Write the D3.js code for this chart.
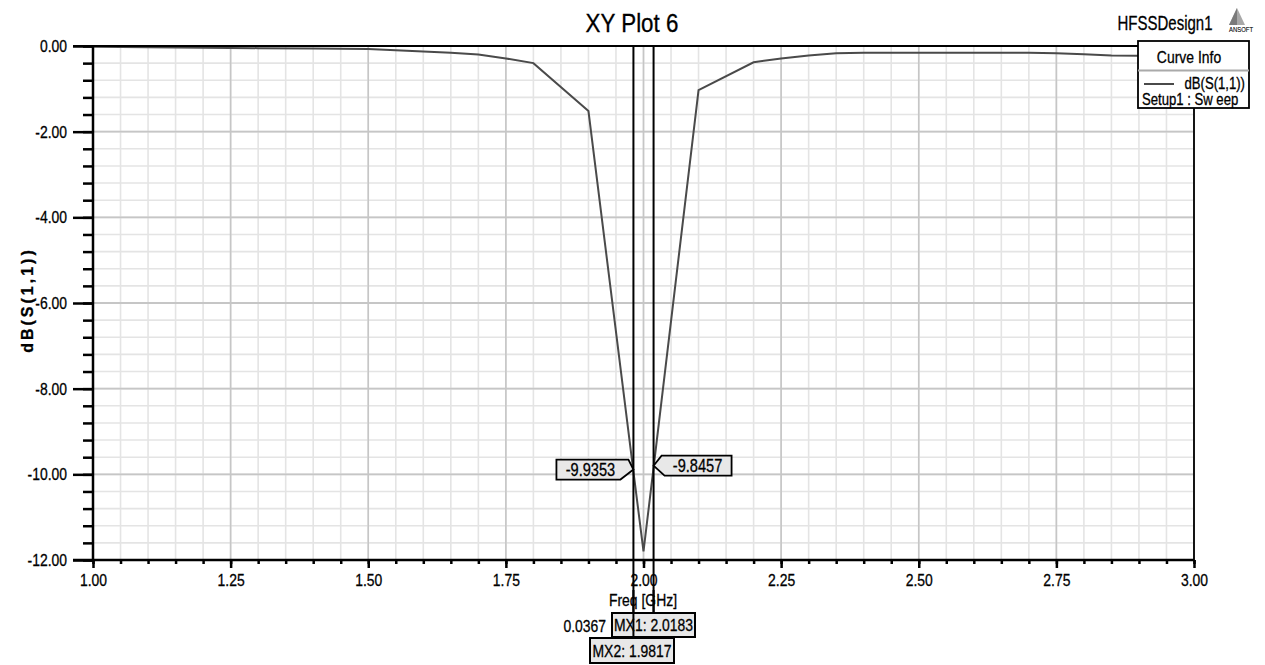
<!DOCTYPE html>
<html>
<head>
<meta charset="utf-8">
<script src="https://cdn.jsdelivr.net/npm/d3@7"></script>
<style>
  html, body { margin: 0; padding: 0; background: #fff; }
  svg { display: block; }
  text { font-family: "Liberation Sans", Arial, sans-serif; fill: #000; stroke: #000; stroke-width: 0.3px; }
</style>
</head>
<body>
<svg id="chart" width="1265" height="665"></svg>
<script>
// ---- data: return loss sweep of the HFSS design ----
const freqGHz = [1.00, 1.10, 1.20, 1.30, 1.40, 1.50, 1.55, 1.60, 1.65, 1.70, 1.75, 1.80, 1.90,
                 1.9817, 2.00, 2.0183, 2.10, 2.20, 2.25, 2.30, 2.35, 2.40, 2.50, 2.60, 2.70,
                 2.75, 2.80, 2.85, 2.90, 3.00];
const s11dB   = [-0.02, -0.03, -0.04, -0.05, -0.06, -0.07, -0.10, -0.13, -0.16, -0.20, -0.29, -0.40, -1.52,
                 -9.9353, -11.80, -9.8457, -1.03, -0.38, -0.29, -0.22, -0.17, -0.16, -0.16, -0.16, -0.16,
                 -0.17, -0.19, -0.22, -0.23, -0.24];

// axis ticks
const xMajorTicks = [1.00, 1.25, 1.50, 1.75, 2.00, 2.25, 2.50, 2.75, 3.00];
const xMinorTicks = d3.range(0, 41).map(i => 1 + i * 0.05);
const yMajorTicks = [0, -2, -4, -6, -8, -10, -12];
const yMinorTicks = d3.range(0, 31).map(i => -i * 0.4);

// markers
const markerNames = ["MX1", "MX2"];
const markerFreq  = [2.0183, 1.9817];
const markerDB    = [-9.8457, -9.9353];
const markerDelta = "0.0367";

const SX = 0.82; // horizontal condensing of the label face

const svg = d3.select("#chart");
svg.append("rect").attr("width", 1265).attr("height", 665).attr("fill", "#fff");

// condensed text helper
function nText(g, x, y, str, size, anchor, sx) {
  return g.append("text")
    .attr("transform", `translate(${x},${y}) scale(${sx || SX},1)`)
    .attr("text-anchor", anchor || "start")
    .attr("font-size", size).text(str);
}

const plotL = 93, plotR = 1194, plotT = 46, plotB = 560;
const x = d3.scaleLinear().domain([1, 3]).range([plotL, plotR]);
const y = d3.scaleLinear().domain([0, -12]).range([plotT, plotB]);

const loc = d3.formatLocale({decimal: ".", thousands: ",", grouping: [3], currency: ["", ""], minus: "-"});
const f2 = loc.format(".2f");

// ---- grid ----
const grid = svg.append("g");
grid.selectAll("line.vminor").data(xMinorTicks).join("line")
  .attr("x1", d => x(d)).attr("x2", d => x(d)).attr("y1", plotT).attr("y2", plotB)
  .attr("stroke", "#e4e4e4").attr("stroke-width", 1.6);
grid.selectAll("line.hminor").data(yMinorTicks).join("line")
  .attr("x1", plotL).attr("x2", plotR).attr("y1", d => y(d)).attr("y2", d => y(d))
  .attr("stroke", "#e4e4e4").attr("stroke-width", 1.6);
grid.selectAll("line.vmajor").data(xMajorTicks).join("line")
  .attr("x1", d => x(d)).attr("x2", d => x(d)).attr("y1", plotT).attr("y2", plotB)
  .attr("stroke", "#c6c6c6").attr("stroke-width", 1.6);
grid.selectAll("line.hmajor").data(yMajorTicks).join("line")
  .attr("x1", plotL).attr("x2", plotR).attr("y1", d => y(d)).attr("y2", d => y(d))
  .attr("stroke", "#c6c6c6").attr("stroke-width", 1.8);

// ---- curve ----
const pts = freqGHz.map((f, i) => [f, s11dB[i]]);
svg.append("path").datum(pts)
  .attr("d", d3.line().x(d => x(d[0])).y(d => y(d[1])))
  .attr("fill", "none").attr("stroke", "#4a4a4a").attr("stroke-width", 2);

// ---- axes ----
function styleAxis(g) {
  g.select(".domain").remove();
  g.selectAll(".tick line").attr("stroke", "#000").attr("stroke-width", 2.5);
  g.selectAll(".tick text").each(function () {
    const t = d3.select(this);
    const tx = +t.attr("x") || 0;
    t.attr("x", tx / SX).attr("transform", `scale(${SX},1)`)
      .attr("font-size", 17).attr("fill", "#000")
      .style("font-family", '"Liberation Sans", Arial, sans-serif');
  });
}
svg.append("g").attr("transform", `translate(${plotL},0)`)
  .call(d3.axisLeft(y).tickValues(yMinorTicks).tickSize(10).tickFormat(""))
  .call(styleAxis);
svg.append("g").attr("transform", `translate(${plotL},0)`)
  .call(d3.axisLeft(y).tickValues(yMajorTicks).tickSize(20).tickPadding(6).tickFormat(f2))
  .call(styleAxis);
svg.append("g").attr("transform", `translate(0,${plotB})`)
  .call(d3.axisBottom(x).tickValues(xMinorTicks).tickSize(4).tickFormat(""))
  .call(styleAxis);
svg.append("g").attr("transform", `translate(0,${plotB})`)
  .call(d3.axisBottom(x).tickValues(xMajorTicks).tickSize(8).tickPadding(6).tickFormat(f2))
  .call(styleAxis);

// plot frame
svg.append("line").attr("x1", plotL).attr("x2", plotL).attr("y1", plotT).attr("y2", plotB).attr("stroke", "#000").attr("stroke-width", 2.5);
svg.append("line").attr("x1", plotL - 20).attr("x2", plotR).attr("y1", plotB).attr("y2", plotB).attr("stroke", "#000").attr("stroke-width", 2.5);
svg.append("line").attr("x1", plotL - 20).attr("x2", plotR).attr("y1", plotT).attr("y2", plotT).attr("stroke", "#000").attr("stroke-width", 2);
svg.append("line").attr("x1", plotR).attr("x2", plotR).attr("y1", plotT).attr("y2", plotB).attr("stroke", "#000").attr("stroke-width", 1.8);

// ---- marker lines ----
const mLineEnd = [613, 637];
markerFreq.forEach((f, i) => {
  svg.append("line").attr("x1", x(f)).attr("x2", x(f)).attr("y1", plotT).attr("y2", mLineEnd[i])
    .attr("stroke", "#000").attr("stroke-width", 2);
});

// value flags at marker intersections
function flag(px, py, dir, label) {
  // dir = -1: flag sits left of the point, +1: right of it
  const g = svg.append("g");
  let poly;
  if (dir < 0) {
    poly = [[px, py], [px - 13, py + 10], [px - 77, py + 10], [px - 77, py - 10], [px - 5, py - 10]];
  } else {
    poly = [[px, py], [px + 8, py - 10], [px + 78, py - 10], [px + 78, py + 10], [px + 11, py + 10]];
  }
  g.append("polygon").attr("points", poly.map(p => p.join(",")).join(" "))
    .attr("fill", "#e8e8e8").attr("stroke", "#000").attr("stroke-width", 1.8);
  const cx = dir < 0 ? px - 43 : px + 44;
  nText(g, cx, py + 6.5, label, 18, "middle", 0.81);
}
flag(x(markerFreq[1]), y(markerDB[1]) - 2, -1, markerDB[1].toFixed(4));
flag(x(markerFreq[0]), y(markerDB[0]) - 2, 1, markerDB[0].toFixed(4));

// ---- titles ----
nText(svg, 632, 32, "XY Plot 6", 26, "middle", 0.86);
nText(svg, 1165, 30, "HFSSDesign1", 20, "middle", 0.75);
// logo
svg.append("polygon").attr("points", "1237,8 1229,25 1245,25").attr("fill", "#a8a8a8");
svg.append("polygon").attr("points", "1237,8 1229,25 1237,25").attr("fill", "#7a7a7a");
nText(svg, 1241, 32, "ANSOFT", 7, "middle", 0.85).style("stroke-width", "0.1px");

svg.append("text").attr("transform", "translate(33,300) rotate(-90)").attr("text-anchor", "middle")
  .attr("font-size", 16).attr("font-weight", "bold").attr("letter-spacing", 3)
  .text("dB(S(1,1))");

nText(svg, 643, 606, "Freq [GHz]", 17, "middle");

// marker readout below the axis
nText(svg, 606, 632, markerDelta, 17, "end");
const boxes = [{x0: 612, y0: 613, w: 83, h: 24}, {x0: 590, y0: 638, w: 84, h: 25}];
markerNames.forEach((n, i) => {
  const b = boxes[i];
  svg.append("rect").attr("x", b.x0).attr("y", b.y0).attr("width", b.w).attr("height", b.h)
    .attr("fill", "#e8e8e8").attr("stroke", "#000").attr("stroke-width", 2);
  nText(svg, b.x0 + b.w / 2, b.y0 + b.h / 2 + 6, `${n}: ${markerFreq[i].toFixed(4)}`, 17, "middle");
});
// marker lines cross over the readout boxes
markerFreq.forEach((f, i) => {
  svg.append("line").attr("x1", x(f)).attr("x2", x(f)).attr("y1", 590).attr("y2", mLineEnd[i])
    .attr("stroke", "#000").attr("stroke-width", 2);
});

// ---- legend ----
const lg = svg.append("g");
lg.append("rect").attr("x", 1138).attr("y", 41).attr("width", 111).attr("height", 67)
  .attr("fill", "#fff").attr("stroke", "#000").attr("stroke-width", 1.8);
lg.append("line").attr("x1", 1138).attr("x2", 1249).attr("y1", 70.5).attr("y2", 70.5).attr("stroke", "#aaa").attr("stroke-width", 2);
nText(lg, 1189, 63, "Curve Info", 17, "middle");
lg.append("line").attr("x1", 1144).attr("x2", 1174).attr("y1", 84).attr("y2", 84).attr("stroke", "#4a4a4a").attr("stroke-width", 2);
nText(lg, 1245, 89, "dB(S(1,1))", 16, "end");
nText(lg, 1142, 105, "Setup1 : Sw eep", 16, "start");
</script>
</body>
</html>
